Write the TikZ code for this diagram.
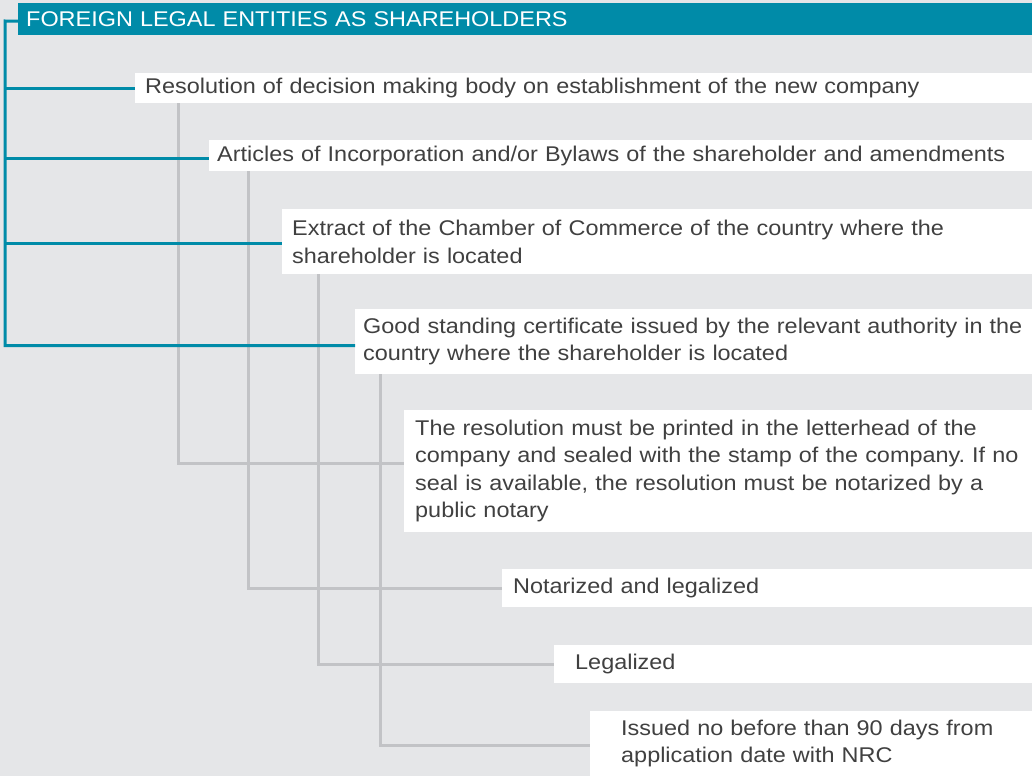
\documentclass[tikz,border=0pt]{standalone}
\usepackage{fontspec}
\setmainfont{Liberation Sans}[FakeStretch=1.1]
\usepackage{xcolor}
\usepackage{tikz}
\frenchspacing
\definecolor{bgcol}{HTML}{E5E6E8}
\definecolor{tealcol}{HTML}{008BA8}
\definecolor{linecol}{HTML}{C2C3C6}
\definecolor{txtcol}{HTML}{404040}
\tikzstyle{docbox} = [rectangle, anchor=north west, fill=white, inner ysep=0pt, align=left, text=txtcol, font=\fontsize{21.3}{27.5}\selectfont]
\tikzstyle{headbox} = [rectangle, anchor=north west, fill=tealcol, inner ysep=0pt, align=left, text=white, font=\fontsize{21.3}{27.5}\selectfont]
\tikzstyle{mainline} = [draw=tealcol, line width=3pt]
\tikzstyle{subline} = [draw=linecol, line width=3pt]

\begin{document}
\begin{tikzpicture}[x=1pt,y=-1pt]
\fill[bgcol] (0,0) rectangle (1032,776);
\useasboundingbox (0,0) rectangle (1032,776);

\node (head) [headbox, inner xsep=8pt, text width=998pt, minimum height=32pt] at (18,3) {FOREIGN LEGAL ENTITIES AS SHAREHOLDERS};
\node (res) [docbox, inner xsep=10pt, text width=877pt, minimum height=30pt] at (135,73) {Resolution of decision making body on establishment of the new company};
\node (art) [docbox, inner xsep=8pt, text width=807pt, minimum height=31pt] at (209,140) {Articles of Incorporation and/or Bylaws of the shareholder and amendments};
\node (ext) [docbox, inner xsep=10pt, text width=730pt, minimum height=65pt] at (282,209) {Extract of the Chamber of Commerce of the country where the\\ shareholder is located};
\node (good) [docbox, inner xsep=8pt, text width=661pt, minimum height=65pt] at (355,309) {Good standing certificate issued by the relevant authority in the\\ country where the shareholder is located};
\node (resol) [docbox, inner xsep=11pt, text width=606pt, minimum height=122pt] at (404,410) {The resolution must be printed in the letterhead of the\\ company and sealed with the stamp of the company. If no\\ seal is available, the resolution must be notarized by a\\ public notary};
\node (notar) [docbox, inner xsep=11pt, text width=508pt, minimum height=38pt] at (502,569) {Notarized and legalized};
\node (legal) [docbox, inner xsep=21pt, text width=436pt, minimum height=38pt] at (554,645) {Legalized};
\node (issued) [docbox, inner xsep=31pt, text width=380pt, minimum height=65pt] at (590,711) {Issued no before than 90 days from\\ application date with NRC};

\draw [subline] ([xshift=43pt]res.south west) |- ([yshift=8pt]resol.west);
\draw [subline] ([xshift=39pt]art.south west) |- (notar.west);
\draw [subline] ([xshift=36pt]ext.south west) |- (legal.west);
\draw [subline] ([xshift=25pt]good.south west) |- ([yshift=-2pt]issued.west);

\coordinate (trunk) at (5,21);
\draw [mainline] ([yshift=-2pt]head.west) -- (trunk) |- ([yshift=-4pt]good.west);
\draw [mainline] (trunk |- res.west) -- (res.west);
\draw [mainline] ([yshift=-3pt]trunk |- art.west) -- ([yshift=-3pt]art.west);
\draw [mainline] ([yshift=-2pt]trunk |- ext.west) -- ([yshift=-2pt]ext.west);

\end{tikzpicture}
\end{document}
